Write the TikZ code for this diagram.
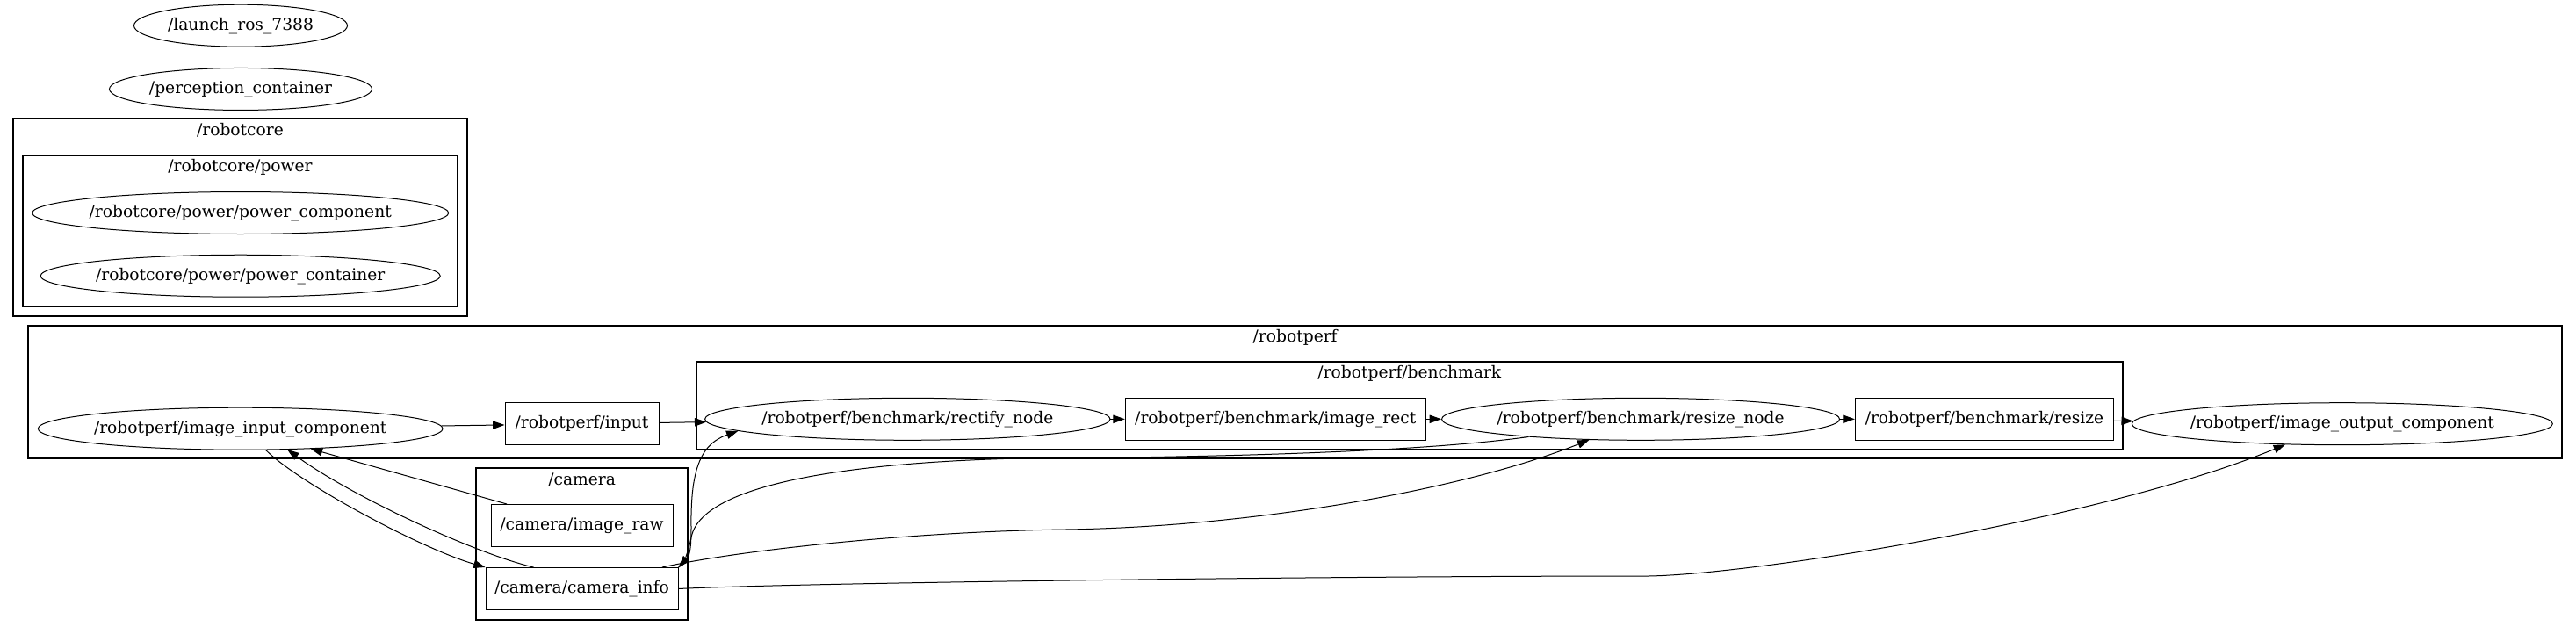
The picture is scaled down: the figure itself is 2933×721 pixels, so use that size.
\documentclass[tikz,border=0pt]{standalone}
\usepackage{fontspec}
\setmainfont{DejaVu Serif}
\usetikzlibrary{arrows.meta,shapes}
\tikzset{
    block/.style = {draw, rectangle, line width=0.75pt,
        minimum height=36pt, inner xsep=2pt,
        text height=10.5pt, text depth=3pt},
    comp/.style = {draw, ellipse, line width=0.75pt,
        minimum height=36pt, inner xsep=-8pt,
        text height=10.5pt, text depth=3pt},
    cluster/.style = {draw, rectangle, line width=1.5pt},
    clabel/.style = {anchor=north, inner sep=4.5pt,
        text height=10.5pt, text depth=3pt},
    arrow/.style = {draw, line width=0.75pt, -{Triangle[length=10pt,width=7pt]}}
}
\begin{document}
\begin{tikzpicture}[x=0.75pt, y=-0.75pt, font=\fontsize{14pt}{17pt}\selectfont]
        \useasboundingbox (0,0) rectangle (2933,721);
        \node [cluster, minimum width=387.75pt, minimum height=168.75pt, label={[clabel]north:/robotcore}] at (273.5,247.5) (robotcore) {};
        \node [cluster, minimum width=371.8pt, minimum height=129.45pt, label={[clabel]north:/robotcore/power}] at (273.55,263) (power) {};
        \node [cluster, minimum width=2163.5pt, minimum height=113.7pt, label={[clabel]north:/robotperf}] at (1474.65,446.5) (robotperf) {};
        \node [cluster, minimum width=1218.2pt, minimum height=75pt, label={[clabel]north:/robotperf/benchmark}] at (1604.85,461.7) (bench) {};
        \node [cluster, minimum width=180.5pt, minimum height=129.5pt, label={[clabel]north:/camera}] at (662.65,619.35) (camera) {};
        \node [comp, minimum width=182.25pt] at (274,29.2) (launch) {/launch\_ros\_7388};
        \node [comp, minimum width=224.25pt, below of=launch, node distance=54.2pt] (percont) {/perception\_container};
        \node [comp, minimum width=355.5pt] at (273.7,242.5) (pwrcomp) {/robotcore/power/power\_component};
        \node [comp, minimum width=341.25pt, below of=pwrcomp, node distance=53.8pt] (pwrcont) {/robotcore/power/power\_container};
        \node [comp, minimum width=345.6pt] at (273.7,488.2) (inpcomp) {/robotperf/image\_input\_component};
        \node [block, minimum width=131.25pt] at (662.5,482.7) (input) {/robotperf/input};
        \node [comp, minimum width=346pt] at (1033.3,477.3) (rectify) {/robotperf/benchmark/rectify\_node};
        \node [block, minimum width=256.5pt, right of=rectify, node distance=314.25pt] (imrect) {/robotperf/benchmark/image\_rect};
        \node [comp, minimum width=339.75pt, right of=imrect, node distance=311.8pt] (resnode) {/robotperf/benchmark/resize\_node};
        \node [block, minimum width=220.8pt, right of=resnode, node distance=293.6pt] (resize) {/robotperf/benchmark/resize};
        \node [comp, minimum width=359.25pt] at (2666.8,482.7) (outcomp) {/robotperf/image\_output\_component};
        \node [block, minimum width=155.25pt] at (662.5,598.5) (imraw) {/camera/image\_raw};
        \node [block, minimum width=164.25pt, below of=imraw, node distance=54pt] (caminfo) {/camera/camera\_info};
        \draw [arrow] (inpcomp) -- (input);
        \draw [arrow] (input) -- (rectify);
        \draw [arrow] (rectify) -- (imrect);
        \draw [arrow] (imrect) -- (resnode);
        \draw [arrow] (resnode) -- (resize);
        \draw [arrow] (resize) -- (outcomp);
        \draw [arrow] (inpcomp.-40) .. controls (340,550) and (480,625) .. (caminfo.north west);
        \draw [arrow] (caminfo.156) .. controls (540,630) and (400,565) .. (inpcomp.-24);
        \draw [arrow] (imraw.164) -- (inpcomp.-16);
        \draw [arrow] (caminfo.north east) .. controls (785,640) and (787,630) .. (787,600) .. controls (786,530) and (800,505) .. (rectify.184);
        \draw [arrow] (resnode.189) .. controls (1620,514) and (1400,521) .. (1160,522) .. controls (1000,526) and (800,545) .. (787,612) .. controls (784,628) and (778,640) .. (caminfo.north east);
        \draw [arrow] (caminfo.15) .. controls (850,625) and (1050,605) .. (1213,603) .. controls (1420,600) and (1660,560) .. (resnode.202);
        \draw [arrow] (caminfo.east) .. controls (900,664) and (1500,656) .. (1877,656) .. controls (2000,654) and (2400,590) .. (outcomp.200);
    \end{tikzpicture}
\end{document}
